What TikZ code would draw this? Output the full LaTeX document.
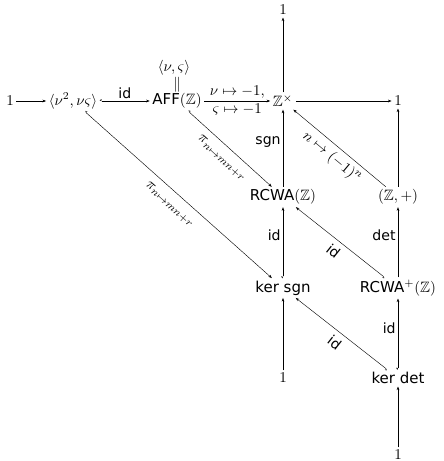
\documentclass[tikz,border=0pt]{standalone}
\usepackage{amsmath,amssymb}
\usepackage{fontspec}
\newfontfamily\dv{DejaVu Sans}
\usetikzlibrary{arrows.meta}
\begin{document}
\begin{tikzpicture}[x=0.6667pt,y=-0.6667pt,
  obj/.style={font=\normalsize, inner sep=1.6pt},
  lab/.style={font=\fontsize{9.4}{11}\selectfont, inner sep=1.4pt},
  mlab/.style={font=\normalsize, inner sep=1.4pt},
  ar/.style={-{Stealth[length=2.4pt,width=1.8pt]}, line width=0.35pt},
  hk/.style={{Hooks[right,length=1.1pt,width=2.4pt]}-{Stealth[length=2.4pt,width=1.8pt]}, line width=0.35pt},
  dg/.style={line width=0.28pt},
]
\useasboundingbox (0,0) rectangle (443,461);
% row 1
\node[obj] (one1) at (10,101) {$1$};
\node[obj] (nu2) at (73,101) {$\langle\nu^2,\nu\varsigma\rangle$};
\node[obj] (aff) at (177,101) {{\dv AFF}$(\mathbb{Z})$};
\node[obj] (nus) at (174,68) {$\langle\nu,\varsigma\rangle$};
\node[obj] (eq) at (177,85) {$\|$};
\node[obj] (zx) at (283,101) {$\mathbb{Z}^\times$};
\node[obj] (oner) at (398,101) {$1$};
\node[obj] (top) at (283,10) {$1$};
% row 2
\node[obj] (rcwa) at (283,197) {{\dv RCWA}$(\mathbb{Z})$};
\node[obj] (zplus) at (398,197) {$(\mathbb{Z},+)$};
% row 3
\node[obj] (kersgn) at (283,288) {\dv ker sgn};
\node[obj] (rcwap) at (398,288) {{\dv RCWA}$^+(\mathbb{Z})$};
% row 4
\node[obj] (oneb) at (283,378) {$1$};
\node[obj] (kerdet) at (398,378) {\dv ker det};
\node[obj] (onebb) at (398,455) {$1$};
% arrows
\draw[ar] (one1) -- (nu2);
\draw[hk] (nu2) -- node[lab,above]{\dv id} (aff);
\draw[ar] (aff) -- node[mlab,above]{$\nu\mapsto-1,$} node[mlab,below]{$\varsigma\mapsto-1$} (zx);
\draw[ar] (zx) -- (top);
\draw[ar] (zx) -- (oner);
\draw[ar] (zplus) -- (oner);
\draw[ar,dg] (zplus) -- node[mlab,sloped,below,inner sep=2.8pt]{$n\mapsto(-1)^n$} (zx);
\draw[ar] (rcwa) -- node[lab,left,pos=0.58]{\dv sgn} (zx);
\draw[hk] (kersgn) -- node[lab,left,pos=0.6]{\dv id} (rcwa);
\draw[hk,dg] (rcwap) -- node[lab,sloped,below,inner sep=3.6pt]{\dv id} (rcwa);
\draw[ar] (rcwap) -- node[lab,left,pos=0.6]{\dv det} (zplus);
\draw[hk] (kerdet) -- node[lab,left,pos=0.58]{\dv id} (rcwap);
\draw[hk,dg] (kerdet) -- node[lab,sloped,below,inner sep=3.6pt]{\dv id} (kersgn);
\draw[ar] (oneb) -- (kersgn);
\draw[ar] (onebb) -- (kerdet);
\draw[hk,dg] (aff) -- node[mlab,sloped,below,inner sep=5pt]{$\pi_{n\mapsto mn+r}$} (rcwa);
\draw[hk,dg] (nu2) -- node[mlab,sloped,below,inner sep=5.5pt]{$\pi_{n\mapsto mn+r}$} (kersgn);
\end{tikzpicture}
\end{document}
